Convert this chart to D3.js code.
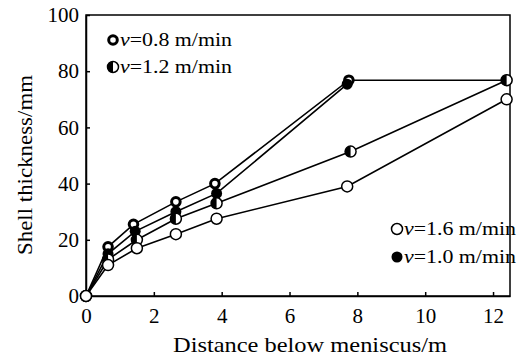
<!DOCTYPE html>
<html>
<head>
<meta charset="utf-8">
<script src="https://cdn.jsdelivr.net/npm/d3@7"></script>
<style>
  html, body { margin: 0; padding: 0; background: #fff; }
  svg text { font-family: "Liberation Serif", "DejaVu Serif", serif; fill: #000; }
</style>
</head>
<body>
<div id="chart"></div>
<script>
// casting speed series: distance below meniscus (m) vs shell thickness (mm)
const dist08 = [0, 0.65, 1.4, 2.65, 3.8, 7.75, 12.4];
const thick08 = [0, 17.5, 25.5, 33.5, 40, 76.8, 76.8];
const dist10 = [0, 0.65, 1.45, 2.65, 3.85, 7.7];
const thick10 = [0, 15, 23, 30, 36.5, 75.4];
const dist12 = [0, 0.65, 1.5, 2.65, 3.85, 7.8, 12.4];
const thick12 = [0, 13, 20, 27.5, 33, 51.4, 76.8];
const dist16 = [0, 0.65, 1.5, 2.65, 3.85, 7.7, 12.4];
const thick16 = [0, 11, 17, 22, 27.5, 39, 70];

const xTicks = [0, 2, 4, 6, 8, 10, 12];
const yTicks = [0, 20, 40, 60, 80, 100];

const W = 521, H = 359;
const M = { top: 15, right: 11, bottom: 63, left: 86 };
const innerW = W - M.left - M.right, innerH = H - M.top - M.bottom;

const series = [
  { label: '=0.8 m/min', marker: 'ring', x: dist08, y: thick08 },
  { label: '=1.0 m/min', marker: 'filled', x: dist10, y: thick10 },
  { label: '=1.2 m/min', marker: 'half', x: dist12, y: thick12 },
  { label: '=1.6 m/min', marker: 'open', x: dist16, y: thick16 },
];

const svg = d3.select('#chart').append('svg').attr('width', W).attr('height', H);
const inner = svg.append('g').attr('transform', `translate(${M.left},${M.top})`);

const x = d3.scaleLinear().domain([0, 12.5]).range([0, innerW]);
const y = d3.scaleLinear().domain([0, 100]).range([innerH, 0]);

// frame
inner.append('rect').attr('width', innerW).attr('height', innerH)
  .attr('fill', 'none').attr('stroke', '#000').attr('stroke-width', 1.5);

// axes with inward ticks
const xAxis = inner.append('g').attr('transform', `translate(0,${innerH})`)
  .call(d3.axisBottom(x).tickValues(xTicks).tickSizeInner(-4).tickSizeOuter(0).tickPadding(12));
const yAxis = inner.append('g')
  .call(d3.axisLeft(y).tickValues(yTicks).tickSizeInner(-4).tickSizeOuter(0).tickPadding(7));
[xAxis, yAxis].forEach(a => {
  a.select('.domain').attr('stroke-width', 1.5);
  a.selectAll('.tick line').attr('stroke-width', 1.5);
  a.selectAll('text').style('font-size', '21px').attr('fill', '#000');
});

svg.append('text').attr('x', 310).attr('y', 352).attr('text-anchor', 'middle')
  .attr('textLength', 274).attr('lengthAdjust', 'spacingAndGlyphs')
  .style('font-size', '21px').text('Distance below meniscus/m');
svg.append('text').attr('transform', 'translate(32,165) rotate(-90)').attr('text-anchor', 'middle')
  .attr('textLength', 180).attr('lengthAdjust', 'spacingAndGlyphs')
  .style('font-size', '21px').text('Shell thickness/mm');

const line = d3.line().x(d => x(d[0])).y(d => y(d[1]));

function drawMarker(g, type, cx, cy) {
  const r = 5.5;
  if (type === 'filled') {
    g.append('circle').attr('cx', cx).attr('cy', cy).attr('r', r).attr('fill', '#000');
  } else if (type === 'ring') {
    g.append('circle').attr('cx', cx).attr('cy', cy).attr('r', r - 1.2)
      .attr('fill', '#fff').attr('stroke', '#000').attr('stroke-width', 3);
  } else if (type === 'half') {
    g.append('circle').attr('cx', cx).attr('cy', cy).attr('r', r)
      .attr('fill', '#fff').attr('stroke', '#000').attr('stroke-width', 1.5);
    g.append('path')
      .attr('d', `M${cx},${cy - r} A${r},${r} 0 0 0 ${cx},${cy + r} Z`)
      .attr('fill', '#000');
  } else {
    g.append('circle').attr('cx', cx).attr('cy', cy).attr('r', r)
      .attr('fill', '#fff').attr('stroke', '#000').attr('stroke-width', 1.5);
  }
}

const linesG = inner.append('g');
const marksG = inner.append('g');
series.forEach(s => {
  const pts = s.x.map((d, i) => [d, s.y[i]]);
  linesG.append('path').datum(pts).attr('d', line)
    .attr('fill', 'none').attr('stroke', '#000').attr('stroke-width', 1.6);
});
series.forEach(s => {
  s.x.forEach((d, i) => drawMarker(marksG, s.marker, x(d), y(s.y[i])));
});

// legends
function legendItem(s, lx, ly) {
  drawMarker(svg, s.marker, lx, ly);
  const t = svg.append('text').attr('x', lx + 7).attr('y', ly + 6)
    .attr('textLength', 112).attr('lengthAdjust', 'spacingAndGlyphs')
    .style('font-size', '19px');
  t.append('tspan').style('font-style', 'italic').text('v');
  t.append('tspan').text(s.label);
}
legendItem(series[0], 113, 40);
legendItem(series[2], 113, 67);
legendItem(series[3], 397, 229);
legendItem(series[1], 397, 257);
</script>
</body>
</html>
